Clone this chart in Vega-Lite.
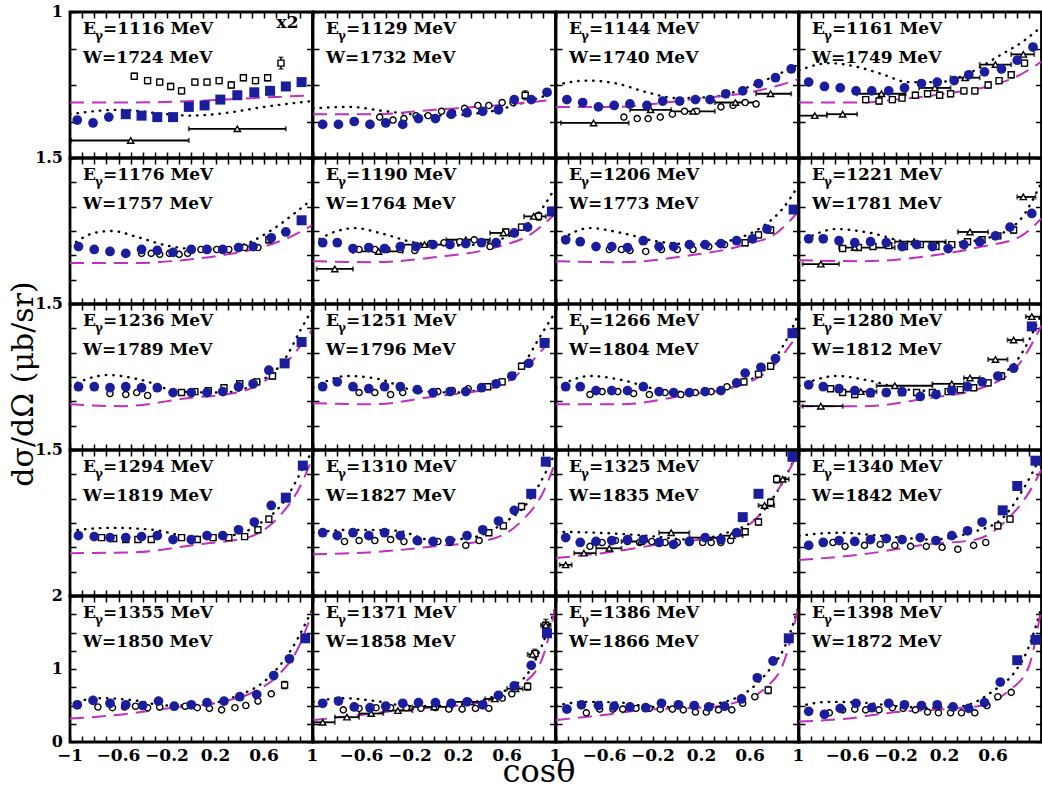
{
"$schema": "https://vega.github.io/schema/vega-lite/v6.json",
"autosize": {"type": "pad"},
"padding": {"left": 8, "top": 2, "right": 0, "bottom": 0},
"background": "white",
"config": {
  "view": {"stroke": "black", "strokeWidth": 2.8},
  "axis": {"domain": false, "grid": false, "labels": false, "ticks": true, "tickSize": -6, "tickWidth": 1.5, "tickColor": "black", "title": null}
},
"data": {"values": [
{"r":1,"c":1,"s":"lab","et":"=1116 MeV","wt":"W=1724 MeV","m":"x2"},
{"r":1,"c":2,"s":"lab","et":"=1129 MeV","wt":"W=1732 MeV"},
{"r":1,"c":3,"s":"lab","et":"=1144 MeV","wt":"W=1740 MeV"},
{"r":1,"c":4,"s":"lab","et":"=1161 MeV","wt":"W=1749 MeV"},
{"r":2,"c":1,"s":"lab","et":"=1176 MeV","wt":"W=1757 MeV"},
{"r":2,"c":2,"s":"lab","et":"=1190 MeV","wt":"W=1764 MeV"},
{"r":2,"c":3,"s":"lab","et":"=1206 MeV","wt":"W=1773 MeV"},
{"r":2,"c":4,"s":"lab","et":"=1221 MeV","wt":"W=1781 MeV"},
{"r":3,"c":1,"s":"lab","et":"=1236 MeV","wt":"W=1789 MeV"},
{"r":3,"c":2,"s":"lab","et":"=1251 MeV","wt":"W=1796 MeV"},
{"r":3,"c":3,"s":"lab","et":"=1266 MeV","wt":"W=1804 MeV"},
{"r":3,"c":4,"s":"lab","et":"=1280 MeV","wt":"W=1812 MeV"},
{"r":4,"c":1,"s":"lab","et":"=1294 MeV","wt":"W=1819 MeV"},
{"r":4,"c":2,"s":"lab","et":"=1310 MeV","wt":"W=1827 MeV"},
{"r":4,"c":3,"s":"lab","et":"=1325 MeV","wt":"W=1835 MeV"},
{"r":4,"c":4,"s":"lab","et":"=1340 MeV","wt":"W=1842 MeV"},
{"r":5,"c":1,"s":"lab","et":"=1355 MeV","wt":"W=1850 MeV"},
{"r":5,"c":2,"s":"lab","et":"=1371 MeV","wt":"W=1858 MeV"},
{"r":5,"c":3,"s":"lab","et":"=1386 MeV","wt":"W=1866 MeV"},
{"r":5,"c":4,"s":"lab","et":"=1398 MeV","wt":"W=1872 MeV"},
{"r":1,"c":1,"s":"yl","v":1,"t":"1"},{"r":1,"c":2,"s":"yl","v":1,"t":"1"},{"r":1,"c":3,"s":"yl","v":1,"t":"1"},{"r":1,"c":4,"s":"yl","v":1,"t":"1"},
{"r":2,"c":1,"s":"yl","v":1.5,"t":"1.5"},{"r":2,"c":2,"s":"yl","v":1.5,"t":"1.5"},{"r":2,"c":3,"s":"yl","v":1.5,"t":"1.5"},{"r":2,"c":4,"s":"yl","v":1.5,"t":"1.5"},
{"r":3,"c":1,"s":"yl","v":1.5,"t":"1.5"},{"r":3,"c":2,"s":"yl","v":1.5,"t":"1.5"},{"r":3,"c":3,"s":"yl","v":1.5,"t":"1.5"},{"r":3,"c":4,"s":"yl","v":1.5,"t":"1.5"},
{"r":4,"c":1,"s":"yl","v":1.5,"t":"1.5"},{"r":4,"c":2,"s":"yl","v":1.5,"t":"1.5"},{"r":4,"c":3,"s":"yl","v":1.5,"t":"1.5"},{"r":4,"c":4,"s":"yl","v":1.5,"t":"1.5"},
{"r":5,"c":1,"s":"yl","v":0,"t":"0"},{"r":5,"c":1,"s":"yl","v":1,"t":"1"},
{"r":5,"c":1,"s":"yl","v":2,"t":"2"},{"r":5,"c":2,"s":"yl","v":2,"t":"2"},{"r":5,"c":3,"s":"yl","v":2,"t":"2"},{"r":5,"c":4,"s":"yl","v":2,"t":"2"},
{"r":5,"c":1,"s":"xl","v":-1,"t":"−1"},{"r":5,"c":1,"s":"xl","v":-0.6,"t":"−0.6"},{"r":5,"c":1,"s":"xl","v":-0.2,"t":"−0.2"},{"r":5,"c":1,"s":"xl","v":0.2,"t":"0.2"},{"r":5,"c":1,"s":"xl","v":0.6,"t":"0.6"},{"r":5,"c":1,"s":"xl","v":1,"t":"1"},
{"r":5,"c":2,"s":"xl","v":-0.6,"t":"−0.6"},{"r":5,"c":2,"s":"xl","v":-0.2,"t":"−0.2"},{"r":5,"c":2,"s":"xl","v":0.2,"t":"0.2"},{"r":5,"c":2,"s":"xl","v":0.6,"t":"0.6"},{"r":5,"c":2,"s":"xl","v":1,"t":"1"},
{"r":5,"c":3,"s":"xl","v":-0.6,"t":"−0.6"},{"r":5,"c":3,"s":"xl","v":-0.2,"t":"−0.2"},{"r":5,"c":3,"s":"xl","v":0.2,"t":"0.2"},{"r":5,"c":3,"s":"xl","v":0.6,"t":"0.6"},{"r":5,"c":3,"s":"xl","v":1,"t":"1"},
{"r":5,"c":4,"s":"xl","v":-0.6,"t":"−0.6"},{"r":5,"c":4,"s":"xl","v":-0.2,"t":"−0.2"},{"r":5,"c":4,"s":"xl","v":0.2,"t":"0.2"},{"r":5,"c":4,"s":"xl","v":0.6,"t":"0.6"},

{"r":1,"c":1,"s":"A","x":-0.94,"y":0.26},{"r":1,"c":1,"s":"A","x":-0.81,"y":0.24},{"r":1,"c":1,"s":"A","x":-0.68,"y":0.28},
{"r":1,"c":1,"s":"B","x":-0.54,"y":0.30},{"r":1,"c":1,"s":"B","x":-0.41,"y":0.29},{"r":1,"c":1,"s":"B","x":-0.28,"y":0.28},{"r":1,"c":1,"s":"B","x":-0.15,"y":0.28},{"r":1,"c":1,"s":"B","x":-0.02,"y":0.35},{"r":1,"c":1,"s":"B","x":0.11,"y":0.36},{"r":1,"c":1,"s":"B","x":0.24,"y":0.40},{"r":1,"c":1,"s":"B","x":0.38,"y":0.43},{"r":1,"c":1,"s":"B","x":0.52,"y":0.45},{"r":1,"c":1,"s":"B","x":0.65,"y":0.46},{"r":1,"c":1,"s":"B","x":0.78,"y":0.49},{"r":1,"c":1,"s":"B","x":0.91,"y":0.52},
{"r":1,"c":1,"s":"D","x":-0.47,"y":0.56,"e":0.02},{"r":1,"c":1,"s":"D","x":-0.36,"y":0.53,"e":0.02},{"r":1,"c":1,"s":"D","x":-0.26,"y":0.52,"e":0.02},{"r":1,"c":1,"s":"D","x":-0.17,"y":0.49,"e":0.02},{"r":1,"c":1,"s":"D","x":-0.08,"y":0.46,"e":0.02},{"r":1,"c":1,"s":"D","x":0.03,"y":0.52,"e":0.02},{"r":1,"c":1,"s":"D","x":0.13,"y":0.52,"e":0.02},{"r":1,"c":1,"s":"D","x":0.23,"y":0.53,"e":0.02},{"r":1,"c":1,"s":"D","x":0.33,"y":0.50,"e":0.02},{"r":1,"c":1,"s":"D","x":0.43,"y":0.55,"e":0.02},{"r":1,"c":1,"s":"D","x":0.53,"y":0.53,"e":0.02},{"r":1,"c":1,"s":"D","x":0.63,"y":0.55,"e":0.02},{"r":1,"c":1,"s":"D","x":0.74,"y":0.65,"e":0.04},
{"r":1,"c":1,"s":"T","x":-0.50,"y":0.12,"xa":-0.99,"xb":-0.02},{"r":1,"c":1,"s":"T","x":0.38,"y":0.20,"xa":-0.02,"xb":0.78},
{"r":1,"c":1,"s":"dot","x":-1,"y":0.30},{"r":1,"c":1,"s":"dot","x":-0.6,"y":0.33},{"r":1,"c":1,"s":"dot","x":-0.2,"y":0.30},{"r":1,"c":1,"s":"dot","x":0,"y":0.29},{"r":1,"c":1,"s":"dot","x":0.3,"y":0.31},{"r":1,"c":1,"s":"dot","x":0.6,"y":0.35},{"r":1,"c":1,"s":"dot","x":1,"y":0.39},
{"r":1,"c":1,"s":"das","x":-1,"y":0.38},{"r":1,"c":1,"s":"das","x":-0.5,"y":0.38},{"r":1,"c":1,"s":"das","x":0,"y":0.39},{"r":1,"c":1,"s":"das","x":0.5,"y":0.41},{"r":1,"c":1,"s":"das","x":1,"y":0.43},

{"r":1,"c":2,"s":"A","x":-0.92,"y":0.23},{"r":1,"c":2,"s":"A","x":-0.79,"y":0.23},{"r":1,"c":2,"s":"A","x":-0.66,"y":0.25},{"r":1,"c":2,"s":"A","x":-0.53,"y":0.23},{"r":1,"c":2,"s":"A","x":-0.40,"y":0.24},{"r":1,"c":2,"s":"A","x":-0.26,"y":0.23},{"r":1,"c":2,"s":"A","x":-0.13,"y":0.27},{"r":1,"c":2,"s":"A","x":0.01,"y":0.27},{"r":1,"c":2,"s":"A","x":0.14,"y":0.30},{"r":1,"c":2,"s":"A","x":0.27,"y":0.31},{"r":1,"c":2,"s":"A","x":0.40,"y":0.32},{"r":1,"c":2,"s":"A","x":0.53,"y":0.33},{"r":1,"c":2,"s":"A","x":0.66,"y":0.40},{"r":1,"c":2,"s":"A","x":0.80,"y":0.40},{"r":1,"c":2,"s":"A","x":0.93,"y":0.45},
{"r":1,"c":2,"s":"C","x":-0.45,"y":0.28},{"r":1,"c":2,"s":"C","x":-0.34,"y":0.26},{"r":1,"c":2,"s":"C","x":-0.25,"y":0.27},{"r":1,"c":2,"s":"C","x":-0.15,"y":0.29},{"r":1,"c":2,"s":"C","x":-0.05,"y":0.29},{"r":1,"c":2,"s":"C","x":0.06,"y":0.32},{"r":1,"c":2,"s":"C","x":0.15,"y":0.31},{"r":1,"c":2,"s":"C","x":0.25,"y":0.34},{"r":1,"c":2,"s":"C","x":0.36,"y":0.36},{"r":1,"c":2,"s":"C","x":0.45,"y":0.36},{"r":1,"c":2,"s":"C","x":0.56,"y":0.38},{"r":1,"c":2,"s":"C","x":0.65,"y":0.38},
{"r":1,"c":2,"s":"D","x":0.75,"y":0.43,"e":0.03},
{"r":1,"c":2,"s":"dot","x":-1,"y":0.34},{"r":1,"c":2,"s":"dot","x":-0.7,"y":0.35},{"r":1,"c":2,"s":"dot","x":-0.4,"y":0.32},{"r":1,"c":2,"s":"dot","x":0,"y":0.29},{"r":1,"c":2,"s":"dot","x":0.4,"y":0.31},{"r":1,"c":2,"s":"dot","x":0.7,"y":0.37},{"r":1,"c":2,"s":"dot","x":1,"y":0.45},
{"r":1,"c":2,"s":"das","x":-1,"y":0.30},{"r":1,"c":2,"s":"das","x":-0.5,"y":0.30},{"r":1,"c":2,"s":"das","x":0,"y":0.33},{"r":1,"c":2,"s":"das","x":0.5,"y":0.36},{"r":1,"c":2,"s":"das","x":1,"y":0.40},

{"r":1,"c":3,"s":"A","x":-0.91,"y":0.40},{"r":1,"c":3,"s":"A","x":-0.78,"y":0.38},{"r":1,"c":3,"s":"A","x":-0.65,"y":0.35},{"r":1,"c":3,"s":"A","x":-0.52,"y":0.36},{"r":1,"c":3,"s":"A","x":-0.39,"y":0.37},{"r":1,"c":3,"s":"A","x":-0.25,"y":0.36},{"r":1,"c":3,"s":"A","x":-0.12,"y":0.39},{"r":1,"c":3,"s":"A","x":0.02,"y":0.39},{"r":1,"c":3,"s":"A","x":0.15,"y":0.40},{"r":1,"c":3,"s":"A","x":0.27,"y":0.40},{"r":1,"c":3,"s":"A","x":0.40,"y":0.44},{"r":1,"c":3,"s":"A","x":0.54,"y":0.46},{"r":1,"c":3,"s":"A","x":0.67,"y":0.51},{"r":1,"c":3,"s":"A","x":0.81,"y":0.55},{"r":1,"c":3,"s":"A","x":0.94,"y":0.61},
{"r":1,"c":3,"s":"C","x":-0.44,"y":0.28},{"r":1,"c":3,"s":"C","x":-0.33,"y":0.27},{"r":1,"c":3,"s":"C","x":-0.24,"y":0.27},{"r":1,"c":3,"s":"C","x":-0.14,"y":0.28},{"r":1,"c":3,"s":"C","x":-0.04,"y":0.30},{"r":1,"c":3,"s":"C","x":0.06,"y":0.32},{"r":1,"c":3,"s":"C","x":0.16,"y":0.32},{"r":1,"c":3,"s":"C","x":0.36,"y":0.35},{"r":1,"c":3,"s":"C","x":0.46,"y":0.36},{"r":1,"c":3,"s":"C","x":0.56,"y":0.38},{"r":1,"c":3,"s":"C","x":0.65,"y":0.37},
{"r":1,"c":3,"s":"T","x":-0.69,"y":0.24,"xa":-0.96,"xb":-0.40},{"r":1,"c":3,"s":"T","x":-0.22,"y":0.33,"xa":-0.39,"xb":-0.05},{"r":1,"c":3,"s":"T","x":0.13,"y":0.32,"xa":-0.05,"xb":0.31},{"r":1,"c":3,"s":"T","x":0.48,"y":0.38,"xa":0.31,"xb":0.65},{"r":1,"c":3,"s":"T","x":0.77,"y":0.44,"xa":0.65,"xb":0.94},
{"r":1,"c":3,"s":"dot","x":-1,"y":0.50},{"r":1,"c":3,"s":"dot","x":-0.75,"y":0.53},{"r":1,"c":3,"s":"dot","x":-0.5,"y":0.51},{"r":1,"c":3,"s":"dot","x":-0.25,"y":0.45},{"r":1,"c":3,"s":"dot","x":0,"y":0.41},{"r":1,"c":3,"s":"dot","x":0.3,"y":0.42},{"r":1,"c":3,"s":"dot","x":0.6,"y":0.49},{"r":1,"c":3,"s":"dot","x":0.85,"y":0.58},{"r":1,"c":3,"s":"dot","x":1,"y":0.64},
{"r":1,"c":3,"s":"das","x":-1,"y":0.35},{"r":1,"c":3,"s":"das","x":-0.5,"y":0.35},{"r":1,"c":3,"s":"das","x":-0.2,"y":0.37},{"r":1,"c":3,"s":"das","x":0.2,"y":0.41},{"r":1,"c":3,"s":"das","x":0.6,"y":0.45},{"r":1,"c":3,"s":"das","x":0.85,"y":0.50},{"r":1,"c":3,"s":"das","x":1,"y":0.54},

{"r":1,"c":4,"s":"A","x":-0.92,"y":0.52},{"r":1,"c":4,"s":"A","x":-0.79,"y":0.49},{"r":1,"c":4,"s":"A","x":-0.66,"y":0.48},{"r":1,"c":4,"s":"A","x":-0.53,"y":0.46},{"r":1,"c":4,"s":"A","x":-0.40,"y":0.46},{"r":1,"c":4,"s":"A","x":-0.26,"y":0.46},{"r":1,"c":4,"s":"A","x":-0.13,"y":0.48},{"r":1,"c":4,"s":"A","x":0.01,"y":0.51},{"r":1,"c":4,"s":"A","x":0.14,"y":0.52},{"r":1,"c":4,"s":"A","x":0.28,"y":0.53},{"r":1,"c":4,"s":"A","x":0.40,"y":0.57},{"r":1,"c":4,"s":"A","x":0.53,"y":0.59},{"r":1,"c":4,"s":"A","x":0.67,"y":0.61},{"r":1,"c":4,"s":"A","x":0.80,"y":0.67},{"r":1,"c":4,"s":"A","x":0.93,"y":0.76},
{"r":1,"c":4,"s":"D","x":-0.45,"y":0.40,"e":0.02},{"r":1,"c":4,"s":"D","x":-0.34,"y":0.39,"e":0.02},{"r":1,"c":4,"s":"D","x":-0.23,"y":0.40,"e":0.02},{"r":1,"c":4,"s":"D","x":-0.15,"y":0.41,"e":0.02},{"r":1,"c":4,"s":"D","x":-0.04,"y":0.43,"e":0.02},{"r":1,"c":4,"s":"D","x":0.06,"y":0.44,"e":0.02},{"r":1,"c":4,"s":"D","x":0.16,"y":0.43,"e":0.02},{"r":1,"c":4,"s":"D","x":0.25,"y":0.44,"e":0.02},{"r":1,"c":4,"s":"D","x":0.36,"y":0.46,"e":0.02},{"r":1,"c":4,"s":"D","x":0.45,"y":0.46,"e":0.02},{"r":1,"c":4,"s":"D","x":0.56,"y":0.50,"e":0.02},{"r":1,"c":4,"s":"D","x":0.65,"y":0.53,"e":0.02},{"r":1,"c":4,"s":"D","x":0.75,"y":0.57,"e":0.02},{"r":1,"c":4,"s":"D","x":0.86,"y":0.65,"e":0.02},
{"r":1,"c":4,"s":"T","x":-0.87,"y":0.29,"xa":-1,"xb":-0.77},{"r":1,"c":4,"s":"T","x":-0.64,"y":0.30,"xa":-0.77,"xb":-0.52},{"r":1,"c":4,"s":"T","x":-0.32,"y":0.44,"xa":-0.52,"xb":-0.12},{"r":1,"c":4,"s":"T","x":0.12,"y":0.48,"xa":-0.01,"xb":0.25},{"r":1,"c":4,"s":"T","x":0.37,"y":0.55,"xa":0.25,"xb":0.49},{"r":1,"c":4,"s":"T","x":0.62,"y":0.64,"xa":0.49,"xb":0.75},{"r":1,"c":4,"s":"T","x":0.85,"y":0.71,"xa":0.75,"xb":0.94},
{"r":1,"c":4,"s":"dot","x":-1,"y":0.60},{"r":1,"c":4,"s":"dot","x":-0.75,"y":0.65},{"r":1,"c":4,"s":"dot","x":-0.5,"y":0.62},{"r":1,"c":4,"s":"dot","x":-0.3,"y":0.57},{"r":1,"c":4,"s":"dot","x":-0.1,"y":0.52},{"r":1,"c":4,"s":"dot","x":0.15,"y":0.52},{"r":1,"c":4,"s":"dot","x":0.4,"y":0.58},{"r":1,"c":4,"s":"dot","x":0.65,"y":0.70},{"r":1,"c":4,"s":"dot","x":0.85,"y":0.80},{"r":1,"c":4,"s":"dot","x":1,"y":0.90},
{"r":1,"c":4,"s":"das","x":-1,"y":0.38},{"r":1,"c":4,"s":"das","x":-0.5,"y":0.38},{"r":1,"c":4,"s":"das","x":-0.2,"y":0.40},{"r":1,"c":4,"s":"das","x":0.2,"y":0.44},{"r":1,"c":4,"s":"das","x":0.6,"y":0.50},{"r":1,"c":4,"s":"das","x":0.8,"y":0.56},{"r":1,"c":4,"s":"das","x":1,"y":0.66},

{"r":2,"c":1,"s":"A","x":-0.93,"y":0.59},{"r":2,"c":1,"s":"A","x":-0.80,"y":0.56},{"r":2,"c":1,"s":"A","x":-0.67,"y":0.54},{"r":2,"c":1,"s":"A","x":-0.54,"y":0.52},{"r":2,"c":1,"s":"A","x":-0.41,"y":0.56},{"r":2,"c":1,"s":"A","x":-0.28,"y":0.55},{"r":2,"c":1,"s":"A","x":-0.15,"y":0.53},{"r":2,"c":1,"s":"A","x":0,"y":0.56},{"r":2,"c":1,"s":"A","x":0.13,"y":0.56},{"r":2,"c":1,"s":"A","x":0.26,"y":0.56},{"r":2,"c":1,"s":"A","x":0.39,"y":0.58},{"r":2,"c":1,"s":"A","x":0.51,"y":0.59},{"r":2,"c":1,"s":"A","x":0.66,"y":0.68},{"r":2,"c":1,"s":"A","x":0.78,"y":0.74},
{"r":2,"c":1,"s":"B","x":0.91,"y":0.86},
{"r":2,"c":1,"s":"C","x":-0.41,"y":0.52},{"r":2,"c":1,"s":"C","x":-0.33,"y":0.52},{"r":2,"c":1,"s":"C","x":-0.26,"y":0.51},{"r":2,"c":1,"s":"C","x":-0.18,"y":0.52},{"r":2,"c":1,"s":"C","x":-0.10,"y":0.51},{"r":2,"c":1,"s":"C","x":-0.03,"y":0.52},{"r":2,"c":1,"s":"C","x":0.08,"y":0.56},{"r":2,"c":1,"s":"C","x":0.21,"y":0.56},{"r":2,"c":1,"s":"C","x":0.31,"y":0.56},{"r":2,"c":1,"s":"C","x":0.44,"y":0.58},{"r":2,"c":1,"s":"C","x":0.55,"y":0.58},
{"r":2,"c":1,"s":"D","x":0.64,"y":0.66,"e":0.03},
{"r":2,"c":1,"s":"dot","x":-1,"y":0.59},{"r":2,"c":1,"s":"dot","x":-0.8,"y":0.73},{"r":2,"c":1,"s":"dot","x":-0.65,"y":0.75},{"r":2,"c":1,"s":"dot","x":-0.45,"y":0.69},{"r":2,"c":1,"s":"dot","x":-0.2,"y":0.60},{"r":2,"c":1,"s":"dot","x":0.1,"y":0.56},{"r":2,"c":1,"s":"dot","x":0.4,"y":0.60},{"r":2,"c":1,"s":"dot","x":0.65,"y":0.75},{"r":2,"c":1,"s":"dot","x":0.85,"y":0.93},{"r":2,"c":1,"s":"dot","x":1,"y":1.08},
{"r":2,"c":1,"s":"das","x":-1,"y":0.42},{"r":2,"c":1,"s":"das","x":-0.5,"y":0.42},{"r":2,"c":1,"s":"das","x":0,"y":0.46},{"r":2,"c":1,"s":"das","x":0.3,"y":0.51},{"r":2,"c":1,"s":"das","x":0.6,"y":0.59},{"r":2,"c":1,"s":"das","x":0.8,"y":0.68},{"r":2,"c":1,"s":"das","x":1,"y":0.81},

{"r":2,"c":2,"s":"A","x":-0.92,"y":0.63},{"r":2,"c":2,"s":"A","x":-0.80,"y":0.63},{"r":2,"c":2,"s":"A","x":-0.67,"y":0.57},{"r":2,"c":2,"s":"A","x":-0.54,"y":0.58},{"r":2,"c":2,"s":"A","x":-0.41,"y":0.57},{"r":2,"c":2,"s":"A","x":-0.28,"y":0.59},{"r":2,"c":2,"s":"A","x":-0.15,"y":0.59},{"r":2,"c":2,"s":"A","x":-0.01,"y":0.61},{"r":2,"c":2,"s":"A","x":0.13,"y":0.61},{"r":2,"c":2,"s":"A","x":0.26,"y":0.62},{"r":2,"c":2,"s":"A","x":0.39,"y":0.63},{"r":2,"c":2,"s":"A","x":0.51,"y":0.63},{"r":2,"c":2,"s":"A","x":0.66,"y":0.73},{"r":2,"c":2,"s":"A","x":0.77,"y":0.79},
{"r":2,"c":2,"s":"B","x":0.97,"y":0.95},
{"r":2,"c":2,"s":"C","x":-0.62,"y":0.56},{"r":2,"c":2,"s":"C","x":-0.49,"y":0.56},{"r":2,"c":2,"s":"C","x":-0.39,"y":0.56},{"r":2,"c":2,"s":"C","x":-0.28,"y":0.56},{"r":2,"c":2,"s":"C","x":-0.16,"y":0.55},{"r":2,"c":2,"s":"C","x":-0.03,"y":0.62},{"r":2,"c":2,"s":"C","x":0.08,"y":0.63},{"r":2,"c":2,"s":"C","x":0.21,"y":0.64},{"r":2,"c":2,"s":"C","x":0.33,"y":0.66},{"r":2,"c":2,"s":"C","x":0.46,"y":0.59},
{"r":2,"c":2,"s":"D","x":0.59,"y":0.74,"e":0.03},{"r":2,"c":2,"s":"D","x":0.72,"y":0.79,"e":0.03},{"r":2,"c":2,"s":"D","x":0.86,"y":0.90,"e":0.04},
{"r":2,"c":2,"s":"T","x":-0.82,"y":0.36,"xa":-0.97,"xb":-0.67},{"r":2,"c":2,"s":"T","x":-0.46,"y":0.54,"xa":-0.67,"xb":-0.26},{"r":2,"c":2,"s":"T","x":-0.08,"y":0.61,"xa":-0.26,"xb":0.10},{"r":2,"c":2,"s":"T","x":0.26,"y":0.66,"xa":0.10,"xb":0.46},{"r":2,"c":2,"s":"T","x":0.57,"y":0.73,"xa":0.46,"xb":0.69},{"r":2,"c":2,"s":"T","x":0.82,"y":0.90,"xa":0.74,"xb":0.92},
{"r":2,"c":2,"s":"dot","x":-1,"y":0.63},{"r":2,"c":2,"s":"dot","x":-0.8,"y":0.75},{"r":2,"c":2,"s":"dot","x":-0.65,"y":0.78},{"r":2,"c":2,"s":"dot","x":-0.45,"y":0.73},{"r":2,"c":2,"s":"dot","x":-0.15,"y":0.63},{"r":2,"c":2,"s":"dot","x":0.2,"y":0.60},{"r":2,"c":2,"s":"dot","x":0.5,"y":0.65},{"r":2,"c":2,"s":"dot","x":0.75,"y":0.80},{"r":2,"c":2,"s":"dot","x":0.9,"y":1.0},{"r":2,"c":2,"s":"dot","x":1,"y":1.2},
{"r":2,"c":2,"s":"das","x":-1,"y":0.44},{"r":2,"c":2,"s":"das","x":-0.5,"y":0.43},{"r":2,"c":2,"s":"das","x":0,"y":0.48},{"r":2,"c":2,"s":"das","x":0.5,"y":0.58},{"r":2,"c":2,"s":"das","x":0.8,"y":0.72},{"r":2,"c":2,"s":"das","x":1,"y":0.93},

{"r":2,"c":3,"s":"A","x":-0.92,"y":0.66},{"r":2,"c":3,"s":"A","x":-0.80,"y":0.64},{"r":2,"c":3,"s":"A","x":-0.67,"y":0.59},{"r":2,"c":3,"s":"A","x":-0.54,"y":0.59},{"r":2,"c":3,"s":"A","x":-0.41,"y":0.58},{"r":2,"c":3,"s":"A","x":-0.28,"y":0.65},{"r":2,"c":3,"s":"A","x":-0.15,"y":0.59},{"r":2,"c":3,"s":"A","x":-0.03,"y":0.59},{"r":2,"c":3,"s":"A","x":0.10,"y":0.61},{"r":2,"c":3,"s":"A","x":0.23,"y":0.61},{"r":2,"c":3,"s":"A","x":0.36,"y":0.62},{"r":2,"c":3,"s":"A","x":0.49,"y":0.65},{"r":2,"c":3,"s":"A","x":0.62,"y":0.67},{"r":2,"c":3,"s":"A","x":0.74,"y":0.77},
{"r":2,"c":3,"s":"B","x":0.96,"y":0.97},
{"r":2,"c":3,"s":"C","x":-0.56,"y":0.56},{"r":2,"c":3,"s":"C","x":-0.46,"y":0.56},{"r":2,"c":3,"s":"C","x":-0.39,"y":0.55},{"r":2,"c":3,"s":"C","x":-0.26,"y":0.54},{"r":2,"c":3,"s":"C","x":-0.13,"y":0.56},{"r":2,"c":3,"s":"C","x":0,"y":0.56},{"r":2,"c":3,"s":"C","x":0.13,"y":0.56},{"r":2,"c":3,"s":"C","x":0.26,"y":0.59},{"r":2,"c":3,"s":"C","x":0.39,"y":0.61},
{"r":2,"c":3,"s":"D","x":0.56,"y":0.63,"e":0.03},{"r":2,"c":3,"s":"D","x":0.67,"y":0.71,"e":0.03},{"r":2,"c":3,"s":"D","x":0.77,"y":0.76,"e":0.03},
{"r":2,"c":3,"s":"dot","x":-1,"y":0.63},{"r":2,"c":3,"s":"dot","x":-0.72,"y":0.78},{"r":2,"c":3,"s":"dot","x":-0.46,"y":0.73},{"r":2,"c":3,"s":"dot","x":-0.15,"y":0.64},{"r":2,"c":3,"s":"dot","x":0.2,"y":0.61},{"r":2,"c":3,"s":"dot","x":0.46,"y":0.66},{"r":2,"c":3,"s":"dot","x":0.72,"y":0.81},{"r":2,"c":3,"s":"dot","x":0.87,"y":0.98},{"r":2,"c":3,"s":"dot","x":1,"y":1.22},
{"r":2,"c":3,"s":"das","x":-1,"y":0.44},{"r":2,"c":3,"s":"das","x":-0.46,"y":0.43},{"r":2,"c":3,"s":"das","x":0.05,"y":0.49},{"r":2,"c":3,"s":"das","x":0.56,"y":0.61},{"r":2,"c":3,"s":"das","x":0.82,"y":0.73},{"r":2,"c":3,"s":"das","x":1,"y":0.95},

{"r":2,"c":4,"s":"A","x":-0.92,"y":0.67},{"r":2,"c":4,"s":"A","x":-0.80,"y":0.67},{"r":2,"c":4,"s":"A","x":-0.67,"y":0.65},{"r":2,"c":4,"s":"A","x":-0.54,"y":0.63},{"r":2,"c":4,"s":"A","x":-0.41,"y":0.64},{"r":2,"c":4,"s":"A","x":-0.28,"y":0.63},{"r":2,"c":4,"s":"A","x":-0.15,"y":0.59},{"r":2,"c":4,"s":"A","x":-0.03,"y":0.61},{"r":2,"c":4,"s":"A","x":0.10,"y":0.59},{"r":2,"c":4,"s":"A","x":0.23,"y":0.57},{"r":2,"c":4,"s":"A","x":0.36,"y":0.61},{"r":2,"c":4,"s":"A","x":0.49,"y":0.64},{"r":2,"c":4,"s":"A","x":0.62,"y":0.70},{"r":2,"c":4,"s":"A","x":0.74,"y":0.79},{"r":2,"c":4,"s":"A","x":0.92,"y":0.93},
{"r":2,"c":4,"s":"D","x":-0.64,"y":0.57,"e":0.02},{"r":2,"c":4,"s":"D","x":-0.51,"y":0.58,"e":0.02},{"r":2,"c":4,"s":"D","x":-0.39,"y":0.59,"e":0.02},{"r":2,"c":4,"s":"D","x":-0.26,"y":0.60,"e":0.02},{"r":2,"c":4,"s":"D","x":-0.13,"y":0.59,"e":0.02},{"r":2,"c":4,"s":"D","x":0,"y":0.61,"e":0.02},{"r":2,"c":4,"s":"D","x":0.13,"y":0.59,"e":0.02},{"r":2,"c":4,"s":"D","x":0.26,"y":0.61,"e":0.02},{"r":2,"c":4,"s":"D","x":0.39,"y":0.64,"e":0.02},{"r":2,"c":4,"s":"D","x":0.51,"y":0.66,"e":0.02},{"r":2,"c":4,"s":"D","x":0.64,"y":0.70,"e":0.02},{"r":2,"c":4,"s":"D","x":0.77,"y":0.76,"e":0.03},
{"r":2,"c":4,"s":"T","x":-0.82,"y":0.41,"xa":-0.97,"xb":-0.67},{"r":2,"c":4,"s":"T","x":-0.54,"y":0.58,"xa":-0.67,"xb":-0.21},{"r":2,"c":4,"s":"T","x":-0.05,"y":0.64,"xa":-0.21,"xb":0.21},{"r":2,"c":4,"s":"T","x":0.41,"y":0.74,"xa":0.31,"xb":0.56},{"r":2,"c":4,"s":"T","x":0.85,"y":1.10,"xa":0.80,"xb":0.95},
{"r":2,"c":4,"s":"dot","x":-1,"y":0.63},{"r":2,"c":4,"s":"dot","x":-0.69,"y":0.77},{"r":2,"c":4,"s":"dot","x":-0.41,"y":0.73},{"r":2,"c":4,"s":"dot","x":-0.1,"y":0.64},{"r":2,"c":4,"s":"dot","x":0.26,"y":0.63},{"r":2,"c":4,"s":"dot","x":0.56,"y":0.68},{"r":2,"c":4,"s":"dot","x":0.82,"y":0.86},{"r":2,"c":4,"s":"dot","x":1,"y":1.25},
{"r":2,"c":4,"s":"das","x":-1,"y":0.45},{"r":2,"c":4,"s":"das","x":-0.46,"y":0.44},{"r":2,"c":4,"s":"das","x":0.05,"y":0.49},{"r":2,"c":4,"s":"das","x":0.51,"y":0.59},{"r":2,"c":4,"s":"das","x":0.82,"y":0.69},{"r":2,"c":4,"s":"das","x":1,"y":0.88},

{"r":3,"c":1,"s":"A","x":-0.93,"y":0.65},{"r":3,"c":1,"s":"A","x":-0.80,"y":0.65},{"r":3,"c":1,"s":"A","x":-0.67,"y":0.64},{"r":3,"c":1,"s":"A","x":-0.54,"y":0.65},{"r":3,"c":1,"s":"A","x":-0.41,"y":0.64},{"r":3,"c":1,"s":"A","x":-0.28,"y":0.64},{"r":3,"c":1,"s":"A","x":-0.15,"y":0.59},{"r":3,"c":1,"s":"A","x":0,"y":0.59},{"r":3,"c":1,"s":"A","x":0.13,"y":0.59},{"r":3,"c":1,"s":"A","x":0.26,"y":0.60},{"r":3,"c":1,"s":"A","x":0.39,"y":0.65},{"r":3,"c":1,"s":"A","x":0.51,"y":0.68},{"r":3,"c":1,"s":"A","x":0.64,"y":0.82},
{"r":3,"c":1,"s":"B","x":0.77,"y":0.89},{"r":3,"c":1,"s":"B","x":0.91,"y":1.11},
{"r":3,"c":1,"s":"C","x":-0.67,"y":0.58},{"r":3,"c":1,"s":"C","x":-0.54,"y":0.57},{"r":3,"c":1,"s":"C","x":-0.45,"y":0.59},{"r":3,"c":1,"s":"C","x":-0.36,"y":0.56},
{"r":3,"c":1,"s":"D","x":-0.08,"y":0.59,"e":0.02},{"r":3,"c":1,"s":"D","x":0.03,"y":0.60,"e":0.02},{"r":3,"c":1,"s":"D","x":0.14,"y":0.61,"e":0.02},{"r":3,"c":1,"s":"D","x":0.27,"y":0.64,"e":0.02},{"r":3,"c":1,"s":"D","x":0.40,"y":0.68,"e":0.02},{"r":3,"c":1,"s":"D","x":0.54,"y":0.70,"e":0.03},{"r":3,"c":1,"s":"D","x":0.67,"y":0.76,"e":0.03},
{"r":3,"c":1,"s":"dot","x":-1,"y":0.66},{"r":3,"c":1,"s":"dot","x":-0.69,"y":0.77},{"r":3,"c":1,"s":"dot","x":-0.41,"y":0.72},{"r":3,"c":1,"s":"dot","x":-0.1,"y":0.60},{"r":3,"c":1,"s":"dot","x":0.26,"y":0.59},{"r":3,"c":1,"s":"dot","x":0.56,"y":0.70},{"r":3,"c":1,"s":"dot","x":0.77,"y":0.93},{"r":3,"c":1,"s":"dot","x":0.9,"y":1.23},{"r":3,"c":1,"s":"dot","x":1,"y":1.45},
{"r":3,"c":1,"s":"das","x":-1,"y":0.47},{"r":3,"c":1,"s":"das","x":-0.56,"y":0.45},{"r":3,"c":1,"s":"das","x":-0.05,"y":0.53},{"r":3,"c":1,"s":"das","x":0.41,"y":0.60},{"r":3,"c":1,"s":"das","x":0.72,"y":0.82},{"r":3,"c":1,"s":"das","x":0.92,"y":1.10},{"r":3,"c":1,"s":"das","x":1,"y":1.24},

{"r":3,"c":2,"s":"A","x":-0.92,"y":0.65},{"r":3,"c":2,"s":"A","x":-0.80,"y":0.70},{"r":3,"c":2,"s":"A","x":-0.67,"y":0.65},{"r":3,"c":2,"s":"A","x":-0.54,"y":0.63},{"r":3,"c":2,"s":"A","x":-0.41,"y":0.65},{"r":3,"c":2,"s":"A","x":-0.28,"y":0.65},{"r":3,"c":2,"s":"A","x":-0.14,"y":0.62},{"r":3,"c":2,"s":"A","x":-0.01,"y":0.59},{"r":3,"c":2,"s":"A","x":0.13,"y":0.60},{"r":3,"c":2,"s":"A","x":0.26,"y":0.60},{"r":3,"c":2,"s":"A","x":0.39,"y":0.64},{"r":3,"c":2,"s":"A","x":0.51,"y":0.68},{"r":3,"c":2,"s":"A","x":0.64,"y":0.76},{"r":3,"c":2,"s":"A","x":0.78,"y":0.89},
{"r":3,"c":2,"s":"B","x":0.91,"y":1.10},
{"r":3,"c":2,"s":"C","x":-0.62,"y":0.59},{"r":3,"c":2,"s":"C","x":-0.49,"y":0.59},{"r":3,"c":2,"s":"C","x":-0.36,"y":0.57},{"r":3,"c":2,"s":"C","x":-0.26,"y":0.59},{"r":3,"c":2,"s":"C","x":-0.13,"y":0.61},{"r":3,"c":2,"s":"C","x":0.03,"y":0.60},{"r":3,"c":2,"s":"C","x":0.15,"y":0.61},{"r":3,"c":2,"s":"C","x":0.28,"y":0.63},
{"r":3,"c":2,"s":"D","x":0.44,"y":0.65,"e":0.02},{"r":3,"c":2,"s":"D","x":0.56,"y":0.70,"e":0.03},{"r":3,"c":2,"s":"D","x":0.72,"y":0.86,"e":0.03},
{"r":3,"c":2,"s":"dot","x":-1,"y":0.64},{"r":3,"c":2,"s":"dot","x":-0.72,"y":0.76},{"r":3,"c":2,"s":"dot","x":-0.46,"y":0.73},{"r":3,"c":2,"s":"dot","x":-0.15,"y":0.61},{"r":3,"c":2,"s":"dot","x":0.2,"y":0.59},{"r":3,"c":2,"s":"dot","x":0.51,"y":0.69},{"r":3,"c":2,"s":"dot","x":0.74,"y":0.89},{"r":3,"c":2,"s":"dot","x":0.87,"y":1.16},{"r":3,"c":2,"s":"dot","x":1,"y":1.42},
{"r":3,"c":2,"s":"das","x":-1,"y":0.48},{"r":3,"c":2,"s":"das","x":-0.51,"y":0.47},{"r":3,"c":2,"s":"das","x":0,"y":0.55},{"r":3,"c":2,"s":"das","x":0.51,"y":0.65},{"r":3,"c":2,"s":"das","x":0.82,"y":0.93},{"r":3,"c":2,"s":"das","x":1,"y":1.2},

{"r":3,"c":3,"s":"A","x":-0.92,"y":0.65},{"r":3,"c":3,"s":"A","x":-0.80,"y":0.65},{"r":3,"c":3,"s":"A","x":-0.67,"y":0.61},{"r":3,"c":3,"s":"A","x":-0.54,"y":0.61},{"r":3,"c":3,"s":"A","x":-0.41,"y":0.61},{"r":3,"c":3,"s":"A","x":-0.28,"y":0.65},{"r":3,"c":3,"s":"A","x":-0.15,"y":0.60},{"r":3,"c":3,"s":"A","x":-0.03,"y":0.59},{"r":3,"c":3,"s":"A","x":0.10,"y":0.59},{"r":3,"c":3,"s":"A","x":0.23,"y":0.60},{"r":3,"c":3,"s":"A","x":0.36,"y":0.61},{"r":3,"c":3,"s":"A","x":0.49,"y":0.69},{"r":3,"c":3,"s":"A","x":0.56,"y":0.79},{"r":3,"c":3,"s":"A","x":0.69,"y":0.85},{"r":3,"c":3,"s":"A","x":0.81,"y":0.94},
{"r":3,"c":3,"s":"B","x":0.95,"y":1.20},
{"r":3,"c":3,"s":"C","x":-0.72,"y":0.57},{"r":3,"c":3,"s":"C","x":-0.62,"y":0.60},{"r":3,"c":3,"s":"C","x":-0.49,"y":0.60},{"r":3,"c":3,"s":"C","x":-0.36,"y":0.58},{"r":3,"c":3,"s":"C","x":-0.23,"y":0.57},{"r":3,"c":3,"s":"C","x":-0.10,"y":0.59},{"r":3,"c":3,"s":"C","x":0.03,"y":0.57},{"r":3,"c":3,"s":"C","x":0.15,"y":0.59},{"r":3,"c":3,"s":"C","x":0.28,"y":0.60},{"r":3,"c":3,"s":"C","x":0.41,"y":0.65},
{"r":3,"c":3,"s":"D","x":0.55,"y":0.70,"e":0.03},{"r":3,"c":3,"s":"D","x":0.67,"y":0.78,"e":0.03},{"r":3,"c":3,"s":"D","x":0.77,"y":0.86,"e":0.03},
{"r":3,"c":3,"s":"dot","x":-1,"y":0.64},{"r":3,"c":3,"s":"dot","x":-0.72,"y":0.76},{"r":3,"c":3,"s":"dot","x":-0.46,"y":0.72},{"r":3,"c":3,"s":"dot","x":-0.15,"y":0.62},{"r":3,"c":3,"s":"dot","x":0.2,"y":0.59},{"r":3,"c":3,"s":"dot","x":0.51,"y":0.67},{"r":3,"c":3,"s":"dot","x":0.77,"y":0.89},{"r":3,"c":3,"s":"dot","x":0.9,"y":1.13},{"r":3,"c":3,"s":"dot","x":1,"y":1.40},
{"r":3,"c":3,"s":"das","x":-1,"y":0.47},{"r":3,"c":3,"s":"das","x":-0.46,"y":0.47},{"r":3,"c":3,"s":"das","x":0.05,"y":0.56},{"r":3,"c":3,"s":"das","x":0.51,"y":0.66},{"r":3,"c":3,"s":"das","x":0.79,"y":0.86},{"r":3,"c":3,"s":"das","x":1,"y":1.2},

{"r":3,"c":4,"s":"A","x":-0.92,"y":0.67},{"r":3,"c":4,"s":"A","x":-0.80,"y":0.65},{"r":3,"c":4,"s":"A","x":-0.67,"y":0.63},{"r":3,"c":4,"s":"A","x":-0.54,"y":0.61},{"r":3,"c":4,"s":"A","x":-0.41,"y":0.59},{"r":3,"c":4,"s":"A","x":-0.28,"y":0.59},{"r":3,"c":4,"s":"A","x":-0.15,"y":0.60},{"r":3,"c":4,"s":"A","x":0,"y":0.55},{"r":3,"c":4,"s":"A","x":0.13,"y":0.57},{"r":3,"c":4,"s":"A","x":0.26,"y":0.61},{"r":3,"c":4,"s":"A","x":0.39,"y":0.65},{"r":3,"c":4,"s":"A","x":0.51,"y":0.70},{"r":3,"c":4,"s":"A","x":0.64,"y":0.76},{"r":3,"c":4,"s":"A","x":0.77,"y":0.84},
{"r":3,"c":4,"s":"B","x":0.92,"y":1.27},
{"r":3,"c":4,"s":"D","x":-0.74,"y":0.63,"e":0.02},{"r":3,"c":4,"s":"D","x":-0.64,"y":0.59,"e":0.02},{"r":3,"c":4,"s":"D","x":-0.54,"y":0.57,"e":0.02},{"r":3,"c":4,"s":"D","x":-0.41,"y":0.58,"e":0.02},{"r":3,"c":4,"s":"D","x":-0.28,"y":0.59,"e":0.02},{"r":3,"c":4,"s":"D","x":-0.15,"y":0.59,"e":0.02},{"r":3,"c":4,"s":"D","x":-0.03,"y":0.59,"e":0.02},{"r":3,"c":4,"s":"D","x":0.10,"y":0.59,"e":0.02},{"r":3,"c":4,"s":"D","x":0.23,"y":0.60,"e":0.02},{"r":3,"c":4,"s":"D","x":0.33,"y":0.62,"e":0.02},{"r":3,"c":4,"s":"D","x":0.44,"y":0.64,"e":0.02},{"r":3,"c":4,"s":"D","x":0.56,"y":0.69,"e":0.03},{"r":3,"c":4,"s":"D","x":0.67,"y":0.76,"e":0.03},
{"r":3,"c":4,"s":"T","x":-0.82,"y":0.45,"xa":-0.97,"xb":-0.64},{"r":3,"c":4,"s":"T","x":-0.49,"y":0.60,"xa":-0.64,"xb":-0.36},{"r":3,"c":4,"s":"T","x":-0.21,"y":0.66,"xa":-0.36,"xb":0.10},{"r":3,"c":4,"s":"T","x":0.26,"y":0.68,"xa":0.10,"xb":0.36},{"r":3,"c":4,"s":"T","x":0.41,"y":0.74,"xa":0.36,"xb":0.49},{"r":3,"c":4,"s":"T","x":0.62,"y":0.93,"xa":0.56,"xb":0.72},{"r":3,"c":4,"s":"T","x":0.77,"y":1.13,"xa":0.72,"xb":0.85},{"r":3,"c":4,"s":"T","x":0.92,"y":1.37,"xa":0.87,"xb":1.0},
{"r":3,"c":4,"s":"dot","x":-1,"y":0.66},{"r":3,"c":4,"s":"dot","x":-0.69,"y":0.76},{"r":3,"c":4,"s":"dot","x":-0.41,"y":0.71},{"r":3,"c":4,"s":"dot","x":-0.1,"y":0.62},{"r":3,"c":4,"s":"dot","x":0.26,"y":0.60},{"r":3,"c":4,"s":"dot","x":0.56,"y":0.70},{"r":3,"c":4,"s":"dot","x":0.82,"y":0.96},{"r":3,"c":4,"s":"dot","x":1,"y":1.40},
{"r":3,"c":4,"s":"das","x":-1,"y":0.45},{"r":3,"c":4,"s":"das","x":-0.46,"y":0.45},{"r":3,"c":4,"s":"das","x":0.05,"y":0.53},{"r":3,"c":4,"s":"das","x":0.51,"y":0.64},{"r":3,"c":4,"s":"das","x":0.82,"y":0.89},{"r":3,"c":4,"s":"das","x":1,"y":1.28},

{"r":4,"c":1,"s":"A","x":-0.93,"y":0.62},{"r":4,"c":1,"s":"A","x":-0.80,"y":0.61},{"r":4,"c":1,"s":"A","x":-0.67,"y":0.60},{"r":4,"c":1,"s":"A","x":-0.54,"y":0.60},{"r":4,"c":1,"s":"A","x":-0.41,"y":0.61},{"r":4,"c":1,"s":"A","x":-0.28,"y":0.62},{"r":4,"c":1,"s":"A","x":-0.15,"y":0.58},{"r":4,"c":1,"s":"A","x":0,"y":0.58},{"r":4,"c":1,"s":"A","x":0.13,"y":0.62},{"r":4,"c":1,"s":"A","x":0.26,"y":0.62},{"r":4,"c":1,"s":"A","x":0.39,"y":0.68},{"r":4,"c":1,"s":"A","x":0.52,"y":0.76},{"r":4,"c":1,"s":"A","x":0.66,"y":0.93},
{"r":4,"c":1,"s":"B","x":0.78,"y":1.01},{"r":4,"c":1,"s":"B","x":0.92,"y":1.34},
{"r":4,"c":1,"s":"D","x":-0.74,"y":0.60,"e":0.02},{"r":4,"c":1,"s":"D","x":-0.64,"y":0.59,"e":0.02},{"r":4,"c":1,"s":"D","x":-0.54,"y":0.58,"e":0.02},{"r":4,"c":1,"s":"D","x":-0.44,"y":0.58,"e":0.02},{"r":4,"c":1,"s":"D","x":-0.33,"y":0.58,"e":0.02},{"r":4,"c":1,"s":"D","x":-0.08,"y":0.60,"e":0.02},{"r":4,"c":1,"s":"D","x":0.05,"y":0.58,"e":0.02},{"r":4,"c":1,"s":"D","x":0.18,"y":0.60,"e":0.02},{"r":4,"c":1,"s":"D","x":0.31,"y":0.60,"e":0.02},{"r":4,"c":1,"s":"D","x":0.44,"y":0.61,"e":0.02},{"r":4,"c":1,"s":"D","x":0.55,"y":0.68,"e":0.03},{"r":4,"c":1,"s":"D","x":0.64,"y":0.79,"e":0.03},
{"r":4,"c":1,"s":"dot","x":-1,"y":0.67},{"r":4,"c":1,"s":"dot","x":-0.67,"y":0.70},{"r":4,"c":1,"s":"dot","x":-0.31,"y":0.68},{"r":4,"c":1,"s":"dot","x":0,"y":0.61},{"r":4,"c":1,"s":"dot","x":0.31,"y":0.62},{"r":4,"c":1,"s":"dot","x":0.56,"y":0.74},{"r":4,"c":1,"s":"dot","x":0.77,"y":0.98},{"r":4,"c":1,"s":"dot","x":0.92,"y":1.31},{"r":4,"c":1,"s":"dot","x":1,"y":1.5},
{"r":4,"c":1,"s":"das","x":-1,"y":0.44},{"r":4,"c":1,"s":"das","x":-0.46,"y":0.45},{"r":4,"c":1,"s":"das","x":0.05,"y":0.53},{"r":4,"c":1,"s":"das","x":0.46,"y":0.60},{"r":4,"c":1,"s":"das","x":0.72,"y":0.81},{"r":4,"c":1,"s":"das","x":0.9,"y":1.13},{"r":4,"c":1,"s":"das","x":1,"y":1.42},

{"r":4,"c":2,"s":"A","x":-0.92,"y":0.65},{"r":4,"c":2,"s":"A","x":-0.80,"y":0.62},{"r":4,"c":2,"s":"A","x":-0.67,"y":0.65},{"r":4,"c":2,"s":"A","x":-0.54,"y":0.62},{"r":4,"c":2,"s":"A","x":-0.41,"y":0.65},{"r":4,"c":2,"s":"A","x":-0.28,"y":0.62},{"r":4,"c":2,"s":"A","x":-0.14,"y":0.57},{"r":4,"c":2,"s":"A","x":-0.01,"y":0.56},{"r":4,"c":2,"s":"A","x":0.13,"y":0.57},{"r":4,"c":2,"s":"A","x":0.27,"y":0.62},{"r":4,"c":2,"s":"A","x":0.40,"y":0.68},{"r":4,"c":2,"s":"A","x":0.53,"y":0.77},{"r":4,"c":2,"s":"A","x":0.66,"y":0.88},
{"r":4,"c":2,"s":"B","x":0.80,"y":1.05},{"r":4,"c":2,"s":"B","x":0.92,"y":1.38},
{"r":4,"c":2,"s":"C","x":-0.74,"y":0.56},{"r":4,"c":2,"s":"C","x":-0.62,"y":0.57},{"r":4,"c":2,"s":"C","x":-0.49,"y":0.57},{"r":4,"c":2,"s":"C","x":-0.36,"y":0.58},{"r":4,"c":2,"s":"C","x":-0.25,"y":0.56},{"r":4,"c":2,"s":"C","x":-0.13,"y":0.56},{"r":4,"c":2,"s":"C","x":0.03,"y":0.56},{"r":4,"c":2,"s":"C","x":0.13,"y":0.55},{"r":4,"c":2,"s":"C","x":0.26,"y":0.52},{"r":4,"c":2,"s":"C","x":0.37,"y":0.57},
{"r":4,"c":2,"s":"D","x":0.45,"y":0.65,"e":0.02},{"r":4,"c":2,"s":"D","x":0.57,"y":0.72,"e":0.03},{"r":4,"c":2,"s":"D","x":0.72,"y":0.92,"e":0.03},
{"r":4,"c":2,"s":"dot","x":-1,"y":0.65},{"r":4,"c":2,"s":"dot","x":-0.67,"y":0.68},{"r":4,"c":2,"s":"dot","x":-0.31,"y":0.67},{"r":4,"c":2,"s":"dot","x":0,"y":0.57},{"r":4,"c":2,"s":"dot","x":0.31,"y":0.60},{"r":4,"c":2,"s":"dot","x":0.56,"y":0.74},{"r":4,"c":2,"s":"dot","x":0.77,"y":0.96},{"r":4,"c":2,"s":"dot","x":0.92,"y":1.27},{"r":4,"c":2,"s":"dot","x":1,"y":1.48},
{"r":4,"c":2,"s":"das","x":-1,"y":0.43},{"r":4,"c":2,"s":"das","x":-0.51,"y":0.45},{"r":4,"c":2,"s":"das","x":0,"y":0.51},{"r":4,"c":2,"s":"das","x":0.46,"y":0.58},{"r":4,"c":2,"s":"das","x":0.72,"y":0.77},{"r":4,"c":2,"s":"das","x":0.9,"y":1.07},{"r":4,"c":2,"s":"das","x":1,"y":1.38},

{"r":4,"c":3,"s":"A","x":-0.92,"y":0.60},{"r":4,"c":3,"s":"A","x":-0.80,"y":0.55},{"r":4,"c":3,"s":"A","x":-0.67,"y":0.56},{"r":4,"c":3,"s":"A","x":-0.54,"y":0.57},{"r":4,"c":3,"s":"A","x":-0.41,"y":0.58},{"r":4,"c":3,"s":"A","x":-0.28,"y":0.58},{"r":4,"c":3,"s":"A","x":-0.15,"y":0.55},{"r":4,"c":3,"s":"A","x":-0.03,"y":0.53},{"r":4,"c":3,"s":"A","x":0.10,"y":0.56},{"r":4,"c":3,"s":"A","x":0.23,"y":0.60},{"r":4,"c":3,"s":"A","x":0.36,"y":0.58},{"r":4,"c":3,"s":"A","x":0.49,"y":0.65},
{"r":4,"c":3,"s":"B","x":0.54,"y":0.81},{"r":4,"c":3,"s":"B","x":0.67,"y":1.05},{"r":4,"c":3,"s":"B","x":0.95,"y":1.43},
{"r":4,"c":3,"s":"C","x":-0.72,"y":0.51},{"r":4,"c":3,"s":"C","x":-0.62,"y":0.55},{"r":4,"c":3,"s":"C","x":-0.51,"y":0.57},{"r":4,"c":3,"s":"C","x":-0.41,"y":0.56},{"r":4,"c":3,"s":"C","x":-0.31,"y":0.55},{"r":4,"c":3,"s":"C","x":-0.21,"y":0.56},{"r":4,"c":3,"s":"C","x":-0.10,"y":0.55},{"r":4,"c":3,"s":"C","x":0,"y":0.55},{"r":4,"c":3,"s":"C","x":0.10,"y":0.55},{"r":4,"c":3,"s":"C","x":0.21,"y":0.55},{"r":4,"c":3,"s":"C","x":0.28,"y":0.55},{"r":4,"c":3,"s":"C","x":0.36,"y":0.55},{"r":4,"c":3,"s":"C","x":0.44,"y":0.57},
{"r":4,"c":3,"s":"D","x":0.56,"y":0.66,"e":0.03},{"r":4,"c":3,"s":"D","x":0.67,"y":0.76,"e":0.03},{"r":4,"c":3,"s":"D","x":0.77,"y":0.96,"e":0.04},{"r":4,"c":3,"s":"D","x":0.82,"y":1.20,"e":0.04},{"r":4,"c":3,"s":"D","x":0.95,"y":1.44,"e":0.05},
{"r":4,"c":3,"s":"T","x":-0.92,"y":0.32,"xa":-0.97,"xb":-0.87},{"r":4,"c":3,"s":"T","x":-0.77,"y":0.44,"xa":-0.85,"xb":-0.67},{"r":4,"c":3,"s":"T","x":-0.56,"y":0.49,"xa":-0.67,"xb":-0.46},{"r":4,"c":3,"s":"T","x":-0.30,"y":0.56,"xa":-0.46,"xb":-0.15},{"r":4,"c":3,"s":"T","x":-0.05,"y":0.65,"xa":-0.15,"xb":0.10},{"r":4,"c":3,"s":"T","x":0.25,"y":0.60,"xa":0.10,"xb":0.36},{"r":4,"c":3,"s":"T","x":0.45,"y":0.62,"xa":0.36,"xb":0.54},{"r":4,"c":3,"s":"T","x":0.72,"y":0.93,"xa":0.67,"xb":0.80},{"r":4,"c":3,"s":"T","x":0.87,"y":1.20,"xa":0.82,"xb":0.92},
{"r":4,"c":3,"s":"dot","x":-1,"y":0.66},{"r":4,"c":3,"s":"dot","x":-0.67,"y":0.65},{"r":4,"c":3,"s":"dot","x":-0.26,"y":0.62},{"r":4,"c":3,"s":"dot","x":0.1,"y":0.58},{"r":4,"c":3,"s":"dot","x":0.41,"y":0.65},{"r":4,"c":3,"s":"dot","x":0.67,"y":0.82},{"r":4,"c":3,"s":"dot","x":0.87,"y":1.17},{"r":4,"c":3,"s":"dot","x":1,"y":1.5},
{"r":4,"c":3,"s":"das","x":-1,"y":0.39},{"r":4,"c":3,"s":"das","x":-0.56,"y":0.45},{"r":4,"c":3,"s":"das","x":-0.05,"y":0.55},{"r":4,"c":3,"s":"das","x":0.41,"y":0.62},{"r":4,"c":3,"s":"das","x":0.72,"y":0.89},{"r":4,"c":3,"s":"das","x":0.87,"y":1.17},{"r":4,"c":3,"s":"das","x":1,"y":1.48},

{"r":4,"c":4,"s":"A","x":-0.92,"y":0.52},{"r":4,"c":4,"s":"A","x":-0.80,"y":0.55},{"r":4,"c":4,"s":"A","x":-0.67,"y":0.57},{"r":4,"c":4,"s":"A","x":-0.54,"y":0.56},{"r":4,"c":4,"s":"A","x":-0.41,"y":0.58},{"r":4,"c":4,"s":"A","x":-0.28,"y":0.59},{"r":4,"c":4,"s":"A","x":-0.15,"y":0.58},{"r":4,"c":4,"s":"A","x":0,"y":0.60},{"r":4,"c":4,"s":"A","x":0.13,"y":0.57},{"r":4,"c":4,"s":"A","x":0.26,"y":0.62},{"r":4,"c":4,"s":"A","x":0.39,"y":0.67},{"r":4,"c":4,"s":"A","x":0.51,"y":0.76},
{"r":4,"c":4,"s":"B","x":0.68,"y":0.88},{"r":4,"c":4,"s":"B","x":0.80,"y":1.13},{"r":4,"c":4,"s":"B","x":0.95,"y":1.39},
{"r":4,"c":4,"s":"C","x":-0.72,"y":0.55},{"r":4,"c":4,"s":"C","x":-0.62,"y":0.51},{"r":4,"c":4,"s":"C","x":-0.46,"y":0.52},{"r":4,"c":4,"s":"C","x":-0.33,"y":0.53},{"r":4,"c":4,"s":"C","x":-0.21,"y":0.52},{"r":4,"c":4,"s":"C","x":-0.08,"y":0.51},{"r":4,"c":4,"s":"C","x":0.05,"y":0.51},{"r":4,"c":4,"s":"C","x":0.18,"y":0.50},{"r":4,"c":4,"s":"C","x":0.31,"y":0.48},{"r":4,"c":4,"s":"C","x":0.44,"y":0.52},{"r":4,"c":4,"s":"C","x":0.54,"y":0.55},
{"r":4,"c":4,"s":"D","x":0.64,"y":0.72,"e":0.03},{"r":4,"c":4,"s":"D","x":0.74,"y":0.79,"e":0.03},
{"r":4,"c":4,"s":"dot","x":-1,"y":0.62},{"r":4,"c":4,"s":"dot","x":-0.67,"y":0.65},{"r":4,"c":4,"s":"dot","x":-0.26,"y":0.61},{"r":4,"c":4,"s":"dot","x":0.1,"y":0.58},{"r":4,"c":4,"s":"dot","x":0.41,"y":0.65},{"r":4,"c":4,"s":"dot","x":0.67,"y":0.79},{"r":4,"c":4,"s":"dot","x":0.85,"y":1.10},{"r":4,"c":4,"s":"dot","x":1,"y":1.45},
{"r":4,"c":4,"s":"das","x":-1,"y":0.37},{"r":4,"c":4,"s":"das","x":-0.46,"y":0.43},{"r":4,"c":4,"s":"das","x":0.05,"y":0.53},{"r":4,"c":4,"s":"das","x":0.46,"y":0.58},{"r":4,"c":4,"s":"das","x":0.72,"y":0.79},{"r":4,"c":4,"s":"das","x":0.9,"y":1.07},{"r":4,"c":4,"s":"das","x":1,"y":1.30},

{"r":5,"c":1,"s":"A","x":-0.94,"y":0.51},{"r":5,"c":1,"s":"A","x":-0.81,"y":0.57},{"r":5,"c":1,"s":"A","x":-0.67,"y":0.53},{"r":5,"c":1,"s":"A","x":-0.54,"y":0.51},{"r":5,"c":1,"s":"A","x":-0.40,"y":0.50},{"r":5,"c":1,"s":"A","x":-0.27,"y":0.56},{"r":5,"c":1,"s":"A","x":-0.14,"y":0.49},{"r":5,"c":1,"s":"A","x":0,"y":0.51},{"r":5,"c":1,"s":"A","x":0.13,"y":0.54},{"r":5,"c":1,"s":"A","x":0.27,"y":0.56},{"r":5,"c":1,"s":"A","x":0.40,"y":0.62},{"r":5,"c":1,"s":"A","x":0.54,"y":0.65},{"r":5,"c":1,"s":"A","x":0.68,"y":0.91},{"r":5,"c":1,"s":"A","x":0.81,"y":1.14},
{"r":5,"c":1,"s":"B","x":0.94,"y":1.42},
{"r":5,"c":1,"s":"C","x":-0.77,"y":0.48},{"r":5,"c":1,"s":"C","x":-0.65,"y":0.47},{"r":5,"c":1,"s":"C","x":-0.55,"y":0.48},{"r":5,"c":1,"s":"C","x":-0.46,"y":0.49},{"r":5,"c":1,"s":"C","x":-0.36,"y":0.47},{"r":5,"c":1,"s":"C","x":-0.26,"y":0.48},{"r":5,"c":1,"s":"C","x":-0.05,"y":0.49},{"r":5,"c":1,"s":"C","x":0.05,"y":0.47},{"r":5,"c":1,"s":"C","x":0.15,"y":0.46},{"r":5,"c":1,"s":"C","x":0.25,"y":0.44},{"r":5,"c":1,"s":"C","x":0.36,"y":0.47},{"r":5,"c":1,"s":"C","x":0.45,"y":0.50},{"r":5,"c":1,"s":"C","x":0.55,"y":0.56},{"r":5,"c":1,"s":"C","x":0.66,"y":0.66},
{"r":5,"c":1,"s":"D","x":0.77,"y":0.78,"e":0.05},
{"r":5,"c":1,"s":"dot","x":-1,"y":0.53},{"r":5,"c":1,"s":"dot","x":-0.75,"y":0.60},{"r":5,"c":1,"s":"dot","x":-0.47,"y":0.57},{"r":5,"c":1,"s":"dot","x":-0.2,"y":0.50},{"r":5,"c":1,"s":"dot","x":0.08,"y":0.51},{"r":5,"c":1,"s":"dot","x":0.36,"y":0.62},{"r":5,"c":1,"s":"dot","x":0.63,"y":0.87},{"r":5,"c":1,"s":"dot","x":0.83,"y":1.28},{"r":5,"c":1,"s":"dot","x":1,"y":1.82},
{"r":5,"c":1,"s":"das","x":-1,"y":0.32},{"r":5,"c":1,"s":"das","x":-0.61,"y":0.37},{"r":5,"c":1,"s":"das","x":-0.2,"y":0.46},{"r":5,"c":1,"s":"das","x":0.22,"y":0.54},{"r":5,"c":1,"s":"das","x":0.52,"y":0.69},{"r":5,"c":1,"s":"das","x":0.72,"y":0.92},{"r":5,"c":1,"s":"das","x":0.88,"y":1.28},{"r":5,"c":1,"s":"das","x":1,"y":1.79},

{"r":5,"c":2,"s":"A","x":-0.92,"y":0.53},{"r":5,"c":2,"s":"A","x":-0.79,"y":0.56},{"r":5,"c":2,"s":"A","x":-0.66,"y":0.48},{"r":5,"c":2,"s":"A","x":-0.53,"y":0.47},{"r":5,"c":2,"s":"A","x":-0.40,"y":0.49},{"r":5,"c":2,"s":"A","x":-0.26,"y":0.53},{"r":5,"c":2,"s":"A","x":-0.13,"y":0.54},{"r":5,"c":2,"s":"A","x":0.01,"y":0.54},{"r":5,"c":2,"s":"A","x":0.14,"y":0.53},{"r":5,"c":2,"s":"A","x":0.27,"y":0.55},{"r":5,"c":2,"s":"A","x":0.40,"y":0.51},{"r":5,"c":2,"s":"A","x":0.53,"y":0.64},{"r":5,"c":2,"s":"A","x":0.66,"y":0.77},{"r":5,"c":2,"s":"A","x":0.80,"y":1.05},
{"r":5,"c":2,"s":"B","x":0.93,"y":1.49},
{"r":5,"c":2,"s":"C","x":-0.75,"y":0.44},{"r":5,"c":2,"s":"C","x":-0.62,"y":0.46},{"r":5,"c":2,"s":"C","x":-0.48,"y":0.47},{"r":5,"c":2,"s":"C","x":-0.36,"y":0.47},{"r":5,"c":2,"s":"C","x":-0.23,"y":0.47},{"r":5,"c":2,"s":"C","x":-0.11,"y":0.46},{"r":5,"c":2,"s":"C","x":0.01,"y":0.47},{"r":5,"c":2,"s":"C","x":0.12,"y":0.45},{"r":5,"c":2,"s":"C","x":0.23,"y":0.45},{"r":5,"c":2,"s":"C","x":0.34,"y":0.46},{"r":5,"c":2,"s":"C","x":0.45,"y":0.46},{"r":5,"c":2,"s":"C","x":0.56,"y":0.60},{"r":5,"c":2,"s":"C","x":0.64,"y":0.66},
{"r":5,"c":2,"s":"D","x":0.77,"y":0.76,"e":0.05},{"r":5,"c":2,"s":"D","x":0.83,"y":1.21,"e":0.06},{"r":5,"c":2,"s":"D","x":0.92,"y":1.60,"e":0.08},
{"r":5,"c":2,"s":"T","x":-0.92,"y":0.27,"xa":-1,"xb":-0.82},{"r":5,"c":2,"s":"T","x":-0.72,"y":0.34,"xa":-0.82,"xb":-0.62},{"r":5,"c":2,"s":"T","x":-0.52,"y":0.39,"xa":-0.62,"xb":-0.42},{"r":5,"c":2,"s":"T","x":-0.30,"y":0.43,"xa":-0.42,"xb":-0.18},{"r":5,"c":2,"s":"T","x":0,"y":0.48,"xa":-0.18,"xb":0.15},{"r":5,"c":2,"s":"T","x":0.30,"y":0.55,"xa":0.15,"xb":0.42},{"r":5,"c":2,"s":"T","x":0.50,"y":0.59,"xa":0.42,"xb":0.58},{"r":5,"c":2,"s":"T","x":0.67,"y":0.73,"xa":0.60,"xb":0.73},{"r":5,"c":2,"s":"T","x":0.81,"y":1.20,"xa":0.77,"xb":0.85},{"r":5,"c":2,"s":"T","x":0.92,"y":1.60,"xa":0.88,"xb":0.96},
{"r":5,"c":2,"s":"dot","x":-1,"y":0.55},{"r":5,"c":2,"s":"dot","x":-0.75,"y":0.60},{"r":5,"c":2,"s":"dot","x":-0.48,"y":0.56},{"r":5,"c":2,"s":"dot","x":-0.2,"y":0.49},{"r":5,"c":2,"s":"dot","x":0.07,"y":0.50},{"r":5,"c":2,"s":"dot","x":0.34,"y":0.55},{"r":5,"c":2,"s":"dot","x":0.61,"y":0.73},{"r":5,"c":2,"s":"dot","x":0.78,"y":0.96},{"r":5,"c":2,"s":"dot","x":0.89,"y":1.33},{"r":5,"c":2,"s":"dot","x":1,"y":1.85},
{"r":5,"c":2,"s":"das","x":-1,"y":0.30},{"r":5,"c":2,"s":"das","x":-0.61,"y":0.37},{"r":5,"c":2,"s":"das","x":-0.2,"y":0.45},{"r":5,"c":2,"s":"das","x":0.2,"y":0.50},{"r":5,"c":2,"s":"das","x":0.51,"y":0.60},{"r":5,"c":2,"s":"das","x":0.72,"y":0.78},{"r":5,"c":2,"s":"das","x":0.89,"y":1.14},{"r":5,"c":2,"s":"das","x":1,"y":1.85},

{"r":5,"c":3,"s":"A","x":-0.91,"y":0.45},{"r":5,"c":3,"s":"A","x":-0.79,"y":0.51},{"r":5,"c":3,"s":"A","x":-0.65,"y":0.50},{"r":5,"c":3,"s":"A","x":-0.52,"y":0.49},{"r":5,"c":3,"s":"A","x":-0.39,"y":0.48},{"r":5,"c":3,"s":"A","x":-0.26,"y":0.47},{"r":5,"c":3,"s":"A","x":-0.13,"y":0.53},{"r":5,"c":3,"s":"A","x":0.01,"y":0.51},{"r":5,"c":3,"s":"A","x":0.14,"y":0.50},{"r":5,"c":3,"s":"A","x":0.26,"y":0.48},{"r":5,"c":3,"s":"A","x":0.39,"y":0.49},{"r":5,"c":3,"s":"A","x":0.53,"y":0.59},{"r":5,"c":3,"s":"A","x":0.66,"y":0.88},{"r":5,"c":3,"s":"A","x":0.79,"y":1.11},
{"r":5,"c":3,"s":"B","x":0.92,"y":1.42},
{"r":5,"c":3,"s":"C","x":-0.75,"y":0.40},{"r":5,"c":3,"s":"C","x":-0.64,"y":0.45},{"r":5,"c":3,"s":"C","x":-0.53,"y":0.45},{"r":5,"c":3,"s":"C","x":-0.45,"y":0.45},{"r":5,"c":3,"s":"C","x":-0.34,"y":0.46},{"r":5,"c":3,"s":"C","x":-0.23,"y":0.46},{"r":5,"c":3,"s":"C","x":-0.14,"y":0.45},{"r":5,"c":3,"s":"C","x":-0.04,"y":0.45},{"r":5,"c":3,"s":"C","x":0.05,"y":0.44},{"r":5,"c":3,"s":"C","x":0.15,"y":0.41},{"r":5,"c":3,"s":"C","x":0.24,"y":0.41},{"r":5,"c":3,"s":"C","x":0.34,"y":0.44},{"r":5,"c":3,"s":"C","x":0.45,"y":0.44},{"r":5,"c":3,"s":"C","x":0.54,"y":0.53},{"r":5,"c":3,"s":"C","x":0.64,"y":0.62},
{"r":5,"c":3,"s":"D","x":0.75,"y":0.71,"e":0.05},
{"r":5,"c":3,"s":"dot","x":-1,"y":0.50},{"r":5,"c":3,"s":"dot","x":-0.75,"y":0.55},{"r":5,"c":3,"s":"dot","x":-0.47,"y":0.54},{"r":5,"c":3,"s":"dot","x":-0.2,"y":0.48},{"r":5,"c":3,"s":"dot","x":0.07,"y":0.48},{"r":5,"c":3,"s":"dot","x":0.34,"y":0.53},{"r":5,"c":3,"s":"dot","x":0.61,"y":0.73},{"r":5,"c":3,"s":"dot","x":0.77,"y":1.01},{"r":5,"c":3,"s":"dot","x":0.88,"y":1.28},{"r":5,"c":3,"s":"dot","x":1,"y":1.85},
{"r":5,"c":3,"s":"das","x":-1,"y":0.30},{"r":5,"c":3,"s":"das","x":-0.61,"y":0.37},{"r":5,"c":3,"s":"das","x":-0.2,"y":0.45},{"r":5,"c":3,"s":"das","x":0.2,"y":0.47},{"r":5,"c":3,"s":"das","x":0.5,"y":0.55},{"r":5,"c":3,"s":"das","x":0.72,"y":0.73},{"r":5,"c":3,"s":"das","x":0.88,"y":1.10},{"r":5,"c":3,"s":"das","x":1,"y":1.85},

{"r":5,"c":4,"s":"A","x":-0.92,"y":0.42},{"r":5,"c":4,"s":"A","x":-0.79,"y":0.38},{"r":5,"c":4,"s":"A","x":-0.66,"y":0.46},{"r":5,"c":4,"s":"A","x":-0.53,"y":0.53},{"r":5,"c":4,"s":"A","x":-0.40,"y":0.47},{"r":5,"c":4,"s":"A","x":-0.26,"y":0.53},{"r":5,"c":4,"s":"A","x":-0.13,"y":0.51},{"r":5,"c":4,"s":"A","x":0.01,"y":0.50},{"r":5,"c":4,"s":"A","x":0.14,"y":0.51},{"r":5,"c":4,"s":"A","x":0.27,"y":0.48},{"r":5,"c":4,"s":"A","x":0.40,"y":0.46},{"r":5,"c":4,"s":"A","x":0.53,"y":0.54},{"r":5,"c":4,"s":"A","x":0.66,"y":0.82},
{"r":5,"c":4,"s":"B","x":0.80,"y":1.12},{"r":5,"c":4,"s":"B","x":0.95,"y":1.40},
{"r":5,"c":4,"s":"C","x":-0.75,"y":0.40},{"r":5,"c":4,"s":"C","x":-0.64,"y":0.44},{"r":5,"c":4,"s":"C","x":-0.54,"y":0.45},{"r":5,"c":4,"s":"C","x":-0.45,"y":0.44},{"r":5,"c":4,"s":"C","x":-0.34,"y":0.44},{"r":5,"c":4,"s":"C","x":-0.23,"y":0.47},{"r":5,"c":4,"s":"C","x":-0.14,"y":0.46},{"r":5,"c":4,"s":"C","x":-0.04,"y":0.44},{"r":5,"c":4,"s":"C","x":0.06,"y":0.41},{"r":5,"c":4,"s":"C","x":0.15,"y":0.40},{"r":5,"c":4,"s":"C","x":0.25,"y":0.40},{"r":5,"c":4,"s":"C","x":0.34,"y":0.40},{"r":5,"c":4,"s":"C","x":0.45,"y":0.40},{"r":5,"c":4,"s":"C","x":0.55,"y":0.50},{"r":5,"c":4,"s":"C","x":0.64,"y":0.62},{"r":5,"c":4,"s":"C","x":0.75,"y":0.68},
{"r":5,"c":4,"s":"dot","x":-1,"y":0.49},{"r":5,"c":4,"s":"dot","x":-0.75,"y":0.55},{"r":5,"c":4,"s":"dot","x":-0.48,"y":0.54},{"r":5,"c":4,"s":"dot","x":-0.2,"y":0.49},{"r":5,"c":4,"s":"dot","x":0.07,"y":0.47},{"r":5,"c":4,"s":"dot","x":0.34,"y":0.49},{"r":5,"c":4,"s":"dot","x":0.61,"y":0.71},{"r":5,"c":4,"s":"dot","x":0.78,"y":0.96},{"r":5,"c":4,"s":"dot","x":0.89,"y":1.28},{"r":5,"c":4,"s":"dot","x":1,"y":1.85},
{"r":5,"c":4,"s":"das","x":-1,"y":0.28},{"r":5,"c":4,"s":"das","x":-0.61,"y":0.32},{"r":5,"c":4,"s":"das","x":-0.2,"y":0.41},{"r":5,"c":4,"s":"das","x":0.2,"y":0.45},{"r":5,"c":4,"s":"das","x":0.51,"y":0.50},{"r":5,"c":4,"s":"das","x":0.72,"y":0.69},{"r":5,"c":4,"s":"das","x":0.89,"y":1.01},{"r":5,"c":4,"s":"das","x":1,"y":1.85}
]},
"facet": {
  "row": {"field": "r", "type": "ordinal", "header": {"labels": false, "title": "dσ/dΩ (μb/sr)", "titleOrient": "left", "titleFont": "DejaVu Serif", "titleFontSize": 30, "titleFontWeight": "normal", "titleColor": "black", "titlePadding": 21}},
  "column": {"field": "c", "type": "ordinal", "header": {"labels": false, "title": "cosθ", "titleOrient": "bottom", "titleFont": "DejaVu Serif", "titleFontSize": 32, "titleFontWeight": "normal", "titleColor": "black", "titlePadding": 5}}
},
"spacing": {"row": 0, "column": 0},
"bounds": "flush",
"resolve": {"scale": {"x": "independent", "y": "independent"}},
"spec": {
  "width": 242.5, "height": 146,
  "resolve": {"scale": {"y": "independent"}},
  "layer": [
  {
   "resolve": {"axis": {"x": "independent", "y": "independent"}},
   "layer": [
    {"transform": [{"filter": "datum.s=='dot'"}], "mark": {"type": "line", "color": "black", "strokeWidth": 2.4, "strokeDash": [0.5, 7], "strokeCap": "round", "interpolate": "monotone", "clip": true},
     "encoding": {"x": {"field": "x", "type": "quantitative", "scale": {"domain": [-1, 1], "nice": false, "zero": false}, "axis": {"orient": "top", "values": [-1,-0.9,-0.8,-0.7,-0.6,-0.5,-0.4,-0.3,-0.2,-0.1,0,0.1,0.2,0.3,0.4,0.5,0.6,0.7,0.8,0.9,1]}},
                  "y": {"field": "y", "type": "quantitative", "scale": {"nice": false, "zero": true}, "axis": {"orient": "right", "values": [0,0.25,0.5,0.75,1,1.25,1.5,1.75,2]}}}},
    {"transform": [{"filter": "datum.s=='das'"}], "mark": {"type": "line", "color": "#c02fc0", "strokeWidth": 2, "strokeDash": [14, 8], "interpolate": "monotone", "clip": true},
     "encoding": {"x": {"field": "x", "type": "quantitative", "scale": {"domain": [-1, 1], "nice": false, "zero": false}, "axis": {"orient": "bottom", "values": [-1,-0.9,-0.8,-0.7,-0.6,-0.5,-0.4,-0.3,-0.2,-0.1,0,0.1,0.2,0.3,0.4,0.5,0.6,0.7,0.8,0.9,1]}},
                  "y": {"field": "y", "type": "quantitative", "scale": {"nice": false, "zero": true}, "axis": {"orient": "left", "values": [0,0.25,0.5,0.75,1,1.25,1.5,1.75,2]}}}},
    {"transform": [{"filter": "datum.s=='T'"}], "mark": {"type": "errorbar", "ticks": true, "color": "black", "thickness": 1.8},
     "encoding": {"x": {"field": "xa", "type": "quantitative", "scale": {"domain": [-1, 1], "nice": false, "zero": false}, "axis": null}, "x2": {"field": "xb"},
                  "y": {"field": "y", "type": "quantitative", "scale": {"nice": false, "zero": true}, "axis": null}}},
    {"transform": [{"filter": "datum.s=='D'"}], "mark": {"type": "errorbar", "ticks": true, "color": "black", "thickness": 1.5},
     "encoding": {"x": {"field": "x", "type": "quantitative", "scale": {"domain": [-1, 1], "nice": false, "zero": false}, "axis": null},
                  "y": {"field": "y", "type": "quantitative", "scale": {"nice": false, "zero": true}, "axis": null}, "yError": {"field": "e"}}},
    {"transform": [{"filter": "datum.s=='C'"}], "mark": {"type": "point", "shape": "circle", "filled": true, "fill": "white", "stroke": "black", "strokeWidth": 1.4, "size": 38, "opacity": 1},
     "encoding": {"x": {"field": "x", "type": "quantitative", "scale": {"domain": [-1, 1], "nice": false, "zero": false}, "axis": null},
                  "y": {"field": "y", "type": "quantitative", "scale": {"nice": false, "zero": true}, "axis": null}}},
    {"transform": [{"filter": "datum.s=='D'"}], "mark": {"type": "point", "shape": "square", "filled": true, "fill": "white", "stroke": "black", "strokeWidth": 1.4, "size": 36, "opacity": 1},
     "encoding": {"x": {"field": "x", "type": "quantitative", "scale": {"domain": [-1, 1], "nice": false, "zero": false}, "axis": null},
                  "y": {"field": "y", "type": "quantitative", "scale": {"nice": false, "zero": true}, "axis": null}}},
    {"transform": [{"filter": "datum.s=='T'"}], "mark": {"type": "point", "shape": "triangle-up", "filled": true, "fill": "white", "stroke": "black", "strokeWidth": 1.4, "size": 40, "opacity": 1},
     "encoding": {"x": {"field": "x", "type": "quantitative", "scale": {"domain": [-1, 1], "nice": false, "zero": false}, "axis": null},
                  "y": {"field": "y", "type": "quantitative", "scale": {"nice": false, "zero": true}, "axis": null}}},
    {"transform": [{"filter": "datum.s=='A'"}], "mark": {"type": "point", "shape": "circle", "filled": true, "color": "#1a1e9c", "size": 95, "opacity": 1},
     "encoding": {"x": {"field": "x", "type": "quantitative", "scale": {"domain": [-1, 1], "nice": false, "zero": false}, "axis": null},
                  "y": {"field": "y", "type": "quantitative", "scale": {"nice": false, "zero": true}, "axis": null}}},
    {"transform": [{"filter": "datum.s=='B'"}], "mark": {"type": "point", "shape": "square", "filled": true, "color": "#1a1e9c", "size": 100, "opacity": 1},
     "encoding": {"x": {"field": "x", "type": "quantitative", "scale": {"domain": [-1, 1], "nice": false, "zero": false}, "axis": null},
                  "y": {"field": "y", "type": "quantitative", "scale": {"nice": false, "zero": true}, "axis": null}}},
    {"transform": [{"filter": "datum.s=='yl'"}], "mark": {"type": "text", "font": "DejaVu Serif", "fontWeight": "bold", "fontSize": 16, "align": "right", "baseline": "middle", "dx": -7, "color": "black"},
     "encoding": {"x": {"datum": -1, "type": "quantitative", "scale": {"domain": [-1, 1], "nice": false, "zero": false}, "axis": null},
                  "y": {"field": "v", "type": "quantitative", "scale": {"nice": false, "zero": true}, "axis": null},
                  "text": {"condition": {"test": "datum.c==1", "field": "t"}, "value": ""}}},
    {"transform": [{"filter": "datum.s=='xl'"}], "mark": {"type": "text", "font": "DejaVu Serif", "fontWeight": "bold", "fontSize": 17, "align": "center", "baseline": "top", "dy": 6, "color": "black"},
     "encoding": {"x": {"field": "v", "type": "quantitative", "scale": {"domain": [-1, 1], "nice": false, "zero": false}, "axis": null},
                  "y": {"datum": 0, "type": "quantitative", "scale": {"nice": false, "zero": true}, "axis": null},
                  "text": {"field": "t"}}}
   ]
  },
  {
   "transform": [{"filter": "datum.s=='lab'"}],
   "encoding": {
     "x": {"datum": -0.893, "scale": {"domain": [-1, 1], "nice": false, "zero": false}, "axis": null},
     "y": {"datum": 0.849, "scale": {"domain": [0, 1], "nice": false, "zero": false}, "axis": null}
   },
   "layer": [
    {"mark": {"type": "text", "font": "DejaVu Serif", "fontWeight": "bold", "fontSize": 17, "align": "left", "baseline": "alphabetic", "color": "black"},
     "encoding": {"text": {"value": "E"}}},
    {"mark": {"type": "text", "font": "DejaVu Serif", "fontWeight": "bold", "fontSize": 12, "align": "left", "baseline": "alphabetic", "dx": 12, "dy": 6, "color": "black"},
     "encoding": {"text": {"value": "γ"}}},
    {"mark": {"type": "text", "font": "DejaVu Serif", "fontWeight": "bold", "fontSize": 17, "align": "left", "baseline": "alphabetic", "dx": 20, "color": "black"},
     "encoding": {"text": {"field": "et"}}},
    {"mark": {"type": "text", "font": "DejaVu Serif", "fontWeight": "bold", "fontSize": 17, "align": "left", "baseline": "alphabetic", "color": "black"},
     "encoding": {"y": {"datum": 0.651, "scale": {"domain": [0, 1], "nice": false, "zero": false}, "axis": null}, "text": {"field": "wt"}}},
    {"transform": [{"filter": "datum.m"}], "mark": {"type": "text", "font": "DejaVu Serif", "fontWeight": "bold", "fontSize": 17, "align": "right", "baseline": "alphabetic", "color": "black"},
     "encoding": {"x": {"datum": 0.885, "scale": {"domain": [-1, 1], "nice": false, "zero": false}, "axis": null}, "y": {"datum": 0.89, "scale": {"domain": [0, 1], "nice": false, "zero": false}, "axis": null}, "text": {"field": "m"}}}
   ]
  }
  ]
}
}
